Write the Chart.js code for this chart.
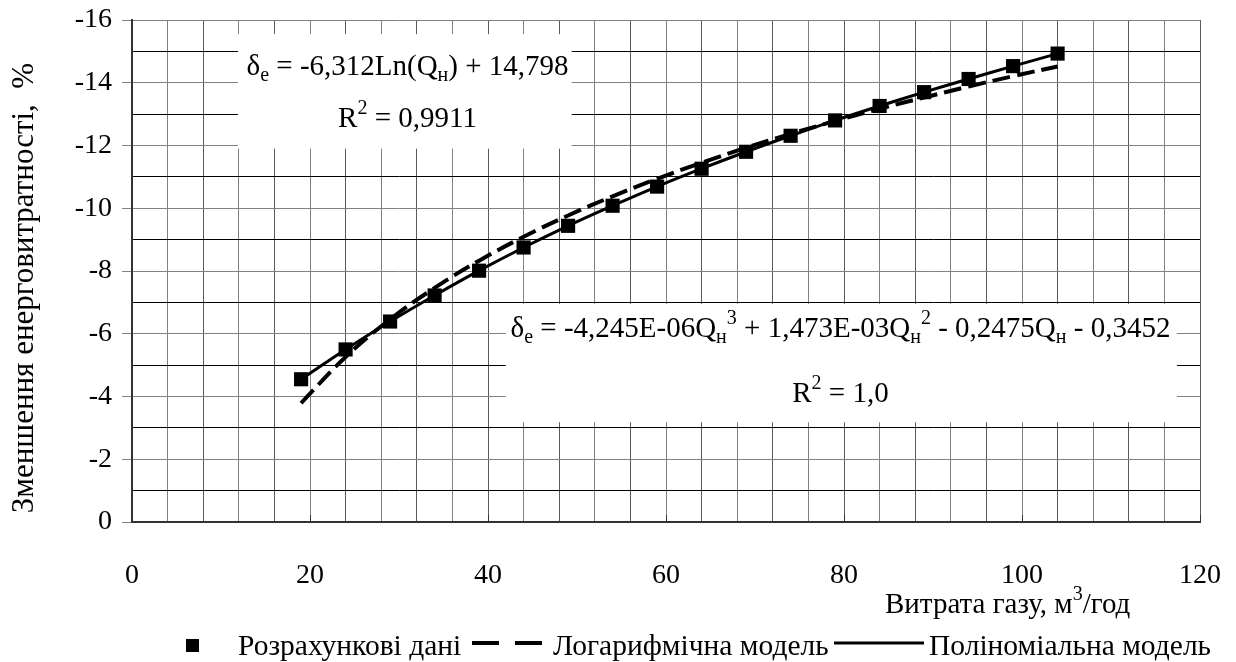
<!DOCTYPE html>
<html>
<head>
<meta charset="utf-8">
<script src="https://cdn.jsdelivr.net/npm/chart.js@4.4.0/dist/chart.umd.min.js"></script>
<style>
  html, body { margin: 0; padding: 0; background: #fff; }
  #wrap { width: 1236px; height: 662px; }
</style>
</head>
<body>
<div id="wrap"><canvas id="chart"></canvas></div>
<script>
// gas flow, m3/h
const flowRates = [19, 24, 29, 34, 39, 44, 49, 54, 59, 64, 69, 74, 79, 84, 89, 94, 99, 104];
// calculated energy reduction, %
const calcValues = [-4.55, -5.50, -6.39, -7.22, -8.01, -8.75, -9.44, -10.08, -10.69, -11.26, -11.80, -12.31, -12.80, -13.26, -13.70, -14.12, -14.53, -14.93];
const logValues = [-3.79, -5.26, -6.46, -7.46, -8.33, -9.09, -9.77, -10.38, -10.94, -11.45, -11.93, -12.37, -12.78, -13.17, -13.53, -13.88, -14.21, -14.52];
const polyValues = [-4.55, -5.50, -6.39, -7.22, -8.01, -8.75, -9.44, -10.08, -10.69, -11.26, -11.80, -12.31, -12.80, -13.26, -13.70, -14.12, -14.53, -14.93];
const xTickLabels = [0, 20, 40, 60, 80, 100, 120];
const yTickLabels = [0, -2, -4, -6, -8, -10, -12, -14, -16];

const FONT = "'Liberation Serif', 'Times New Roman', serif";

const toPoints = vals => flowRates.map((x, i) => ({ x: x, y: vals[i] }));

// text with sub/superscripts, parts = [[text, 'n'|'sub'|'sup'], ...]
function drawRich(ctx, parts, cx, baseY, size, align) {
    const small = Math.round(size * 0.68);
    const widths = parts.map(p => {
        ctx.font = (p[1] === 'n' ? size : small) + 'px ' + FONT;
        return ctx.measureText(p[0]).width;
    });
    const total = widths.reduce((a, b) => a + b, 0);
    let x = align === 'left' ? cx : cx - total / 2;
    ctx.textAlign = 'left';
    ctx.textBaseline = 'alphabetic';
    ctx.fillStyle = '#000';
    parts.forEach((p, i) => {
        let dy = 0;
        if (p[1] === 'sub') dy = size * 0.2;
        if (p[1] === 'sup') dy = -size * 0.45;
        ctx.font = (p[1] === 'n' ? size : small) + 'px ' + FONT;
        ctx.fillText(p[0], x, baseY + dy);
        x += widths[i];
    });
}

const labelBoxes = [
    { x0: 11.9, x1: 49.4, y0: -15.55, y1: -11.9 },
    { x0: 42.0, x1: 117.4, y0: -6.95, y1: -3.18 }
];

const equations = [
    { x: 30.96, y: -14.25, parts: [['δ', 'n'], ['e', 'sub'], [' = -6,312Ln(Q', 'n'], ['н', 'sub'], [') + 14,798', 'n']] },
    { x: 30.96, y: -12.59, parts: [['R', 'n'], ['2', 'sup'], [' = 0,9911', 'n']] },
    { x: 79.6, y: -5.90, parts: [['δ', 'n'], ['e', 'sub'], [' = -4,245E-06Q', 'n'], ['н', 'sub'], ['3', 'sup'], [' + 1,473E-03Q', 'n'], ['н', 'sub'], ['2', 'sup'], [' - 0,2475Q', 'n'], ['н', 'sub'], [' - 0,3452', 'n']] },
    { x: 79.6, y: -3.82, parts: [['R', 'n'], ['2', 'sup'], [' = 1,0', 'n']] }
];

const decorPlugin = {
    id: 'decor',
    beforeDatasetsDraw(chart) {
        const { ctx, scales: { x, y } } = chart;
        ctx.save();
        ctx.fillStyle = '#fff';
        labelBoxes.forEach(b => {
            const l = x.getPixelForValue(b.x0), r = x.getPixelForValue(b.x1);
            const t = y.getPixelForValue(b.y0), bt = y.getPixelForValue(b.y1);
            ctx.fillRect(l, t, r - l, bt - t);
        });
        // small inner tick marks on the x axis
        ctx.strokeStyle = '#333';
        ctx.lineWidth = 1;
        xTickLabels.forEach(v => {
            const px = Math.round(x.getPixelForValue(v)) + 0.5;
            ctx.beginPath();
            ctx.moveTo(px, chart.chartArea.bottom);
            ctx.lineTo(px, chart.chartArea.bottom - 7);
            ctx.stroke();
        });
        ctx.restore();
    },
    afterDraw(chart) {
        const { ctx, scales: { x, y } } = chart;
        ctx.save();
        equations.forEach(e => drawRich(ctx, e.parts, x.getPixelForValue(e.x), y.getPixelForValue(e.y), 29));

        // x axis title
        drawRich(ctx, [['Витрата газу, м', 'n'], ['3', 'sup'], ['/год', 'n']], 885, 613, 29, 'left');

        // y axis title
        ctx.save();
        ctx.translate(33, 288);
        ctx.rotate(-Math.PI / 2);
        ctx.font = '31px ' + FONT;
        ctx.textAlign = 'center';
        ctx.textBaseline = 'alphabetic';
        ctx.fillStyle = '#000';
        ctx.fillText('Зменшення енерговитратності,  %', 0, 0);
        ctx.restore();

        // legend
        const base = 655;
        ctx.font = '29.5px ' + FONT;
        ctx.textAlign = 'left';
        ctx.textBaseline = 'alphabetic';
        ctx.fillStyle = '#000';
        ctx.strokeStyle = '#000';
        ctx.fillRect(186, 639, 13, 13);
        ctx.fillText('Розрахункові дані', 238, base);
        ctx.lineWidth = 4;
        ctx.setLineDash([27, 16]);
        ctx.beginPath(); ctx.moveTo(472, 643); ctx.lineTo(542, 643); ctx.stroke();
        ctx.setLineDash([]);
        ctx.fillText('Логарифмічна модель', 553, base);
        ctx.lineWidth = 3;
        ctx.beginPath(); ctx.moveTo(834, 643); ctx.lineTo(924, 643); ctx.stroke();
        ctx.fillText('Поліноміальна модель', 929, base);
        ctx.restore();
    }
};

new Chart(document.getElementById('chart'), {
    type: 'scatter',
    data: {
        datasets: [
            {
                label: 'Розрахункові дані',
                data: toPoints(calcValues),
                pointStyle: 'rect',
                pointRadius: 10,
                pointHoverRadius: 10,
                backgroundColor: '#000',
                borderColor: '#000',
                borderWidth: 0,
                showLine: false,
                order: 0
            },
            {
                label: 'Поліноміальна модель',
                data: toPoints(polyValues),
                showLine: true,
                borderColor: '#000',
                borderWidth: 3,
                pointRadius: 0,
                tension: 0.4,
                order: 1
            },
            {
                label: 'Логарифмічна модель',
                data: toPoints(logValues),
                showLine: true,
                borderColor: '#000',
                borderWidth: 4,
                borderDash: [18, 7],
                pointRadius: 0,
                tension: 0.4,
                order: 2
            }
        ]
    },
    options: {
        responsive: true,
        maintainAspectRatio: false,
        animation: false,
        layout: { padding: { left: 0, right: 36, top: 20, bottom: 0 } },
        plugins: {
            legend: { display: false },
            tooltip: { enabled: false }
        },
        scales: {
            x: {
                type: 'linear',
                min: 0,
                max: 120,
                afterFit: s => {
                    s.height = 140;
                    s.paddingLeft = 0;
                    s.paddingRight = 0;
                },
                border: { color: '#333', width: 2 },
                grid: {
                    drawTicks: false,
                    color: c => (c.tick && c.tick.value % 8 === 0) ? '#5a5a5a' : '#808080'
                },
                ticks: {
                    stepSize: 4,
                    autoSkip: false,
                    maxRotation: 0,
                    padding: 37,
                    color: '#000',
                    font: { family: FONT, size: 28 },
                    callback: v => xTickLabels.includes(v) ? v : ''
                }
            },
            y: {
                type: 'linear',
                reverse: true,
                min: -16,
                max: 0,
                afterFit: s => {
                    s.width = 132;
                    s.paddingTop = 0;
                    s.paddingBottom = 0;
                },
                border: { color: '#333', width: 2 },
                grid: {
                    tickLength: 10,
                    color: c => (c.tick && Math.abs(c.tick.value) % 2 === 1) ? '#000' : '#808080',
                    tickColor: c => (c.tick && Math.abs(c.tick.value) % 2 === 1) ? 'rgba(0,0,0,0)' : '#808080'
                },
                ticks: {
                    stepSize: 1,
                    autoSkip: false,
                    padding: 10,
                    color: '#000',
                    font: { family: FONT, size: 28 },
                    callback: v => yTickLabels.includes(v) ? String(v) : ''
                }
            }
        }
    },
    plugins: [decorPlugin]
});
</script>
</body>
</html>
